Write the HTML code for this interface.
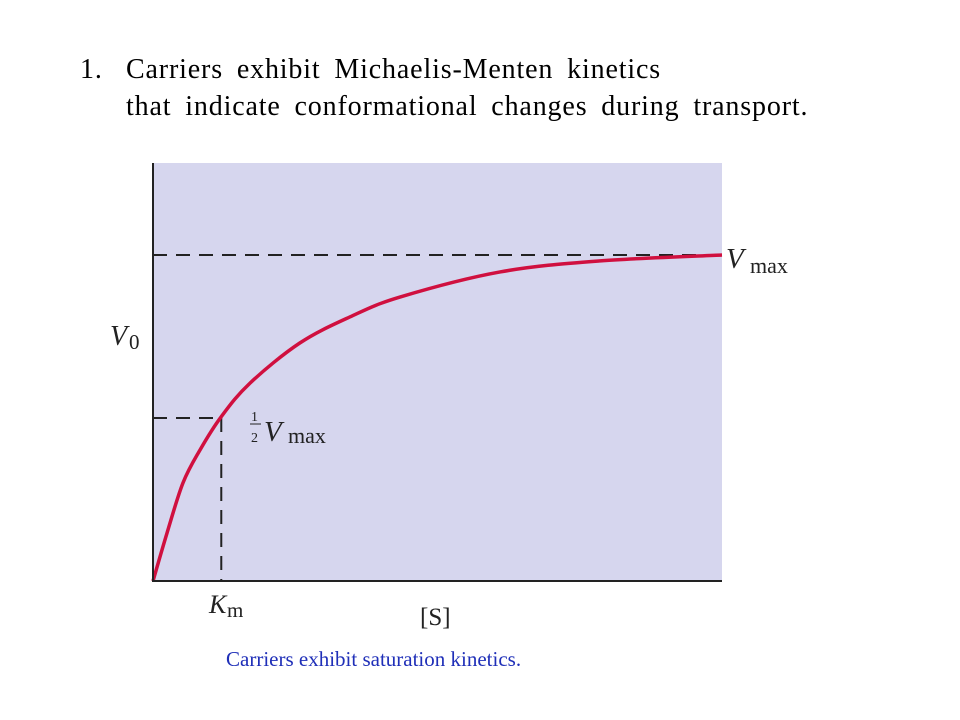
<!DOCTYPE html>
<html><head><meta charset="utf-8"><style>
body{margin:0;width:960px;height:720px;background:#fff;overflow:hidden;position:relative;font-family:"Liberation Serif",serif}
.t{position:absolute;font-size:28px;color:#000;white-space:nowrap;letter-spacing:0.85px;word-spacing:6px}
</style></head><body>
<div class="t" style="left:80px;top:54px">1.</div>
<div class="t" style="left:126px;top:54px">Carriers exhibit Michaelis-Menten kinetics</div>
<div class="t" style="left:126px;top:91px">that indicate conformational changes during transport.</div>
<svg id="c" width="960" height="720" style="position:absolute;left:0;top:0"></svg>
<div style="position:absolute;left:226px;top:647px;font-size:21px;color:#1f2fb8;white-space:nowrap">Carriers exhibit saturation kinetics.</div>
<script>
const S=[0,2.46,5.27,8.26,11.95,17.05,25.8,34.6,43.4,61,78.6,100];
const V=[0,0.147,0.301,0.402,0.503,0.607,0.730,0.810,0.871,0.948,0.982,1.0];
const vmax=1, km=12;
const X0=153,X1=722,Y0=581,Y1=163,SMAX=100,VTOP=(581-163)/326;
const x=s=>X0+s/SMAX*(X1-X0);
const y=v=>Y0-v/VTOP*(Y0-Y1);
const svg=document.getElementById('c');const NS='http://www.w3.org/2000/svg';
function el(t,a,txt){const e=document.createElementNS(NS,t);for(const k in a)e.setAttribute(k,a[k]);if(txt!=null)e.textContent=txt;svg.appendChild(e);return e;}
let e;
e=el('rect',{x:X0,y:Y1,width:X1-X0,height:Y0-Y1,fill:'#d6d6ee'});

e=el('line',{x1:X0,y1:y(vmax),x2:X1,y2:y(vmax),stroke:'#222',"stroke-width":2,"stroke-dasharray":"14,9"});

e=el('line',{x1:X0,y1:y(vmax/2),x2:x(km),y2:y(vmax/2),stroke:'#222',"stroke-width":2,"stroke-dasharray":"14,9"});

e=el('line',{x1:x(km),y1:y(vmax/2),x2:x(km),y2:Y0,stroke:'#222',"stroke-width":2,"stroke-dasharray":"14,9"});

const P=S.map((s,i)=>[x(s),y(V[i])]);
let d='M'+P[0][0]+','+P[0][1];
for(let i=0;i<P.length-1;i++){const p0=P[Math.max(0,i-1)],p1=P[i],p2=P[i+1],p3=P[Math.min(P.length-1,i+2)];
d+=` C${p1[0]+(p2[0]-p0[0])/6},${p1[1]+(p2[1]-p0[1])/6} ${p2[0]-(p3[0]-p1[0])/6},${p2[1]-(p3[1]-p1[1])/6} ${p2[0]},${p2[1]}`;}
e=el('path',{d:d,fill:'none',stroke:'#d0103f',"stroke-width":3.5,"stroke-linejoin":"round"});

e=el('line',{x1:X0,y1:Y1,x2:X0,y2:Y0+1,stroke:'#222',"stroke-width":2});

e=el('line',{x1:X0,y1:Y0,x2:X1,y2:Y0,stroke:'#222',"stroke-width":2});

const f='font-family:"Liberation Serif",serif;fill:#222';
e=el('text',{x:110,y:345,style:f+';font-size:28px;font-style:italic'},'V');

el('text',{x:129,y:349,style:f+';font-size:21px'},'0');
e=el('text',{x:420,y:625,style:f+';font-size:25px'},'[S]');

e=el('text',{x:209,y:613,style:f+';font-size:26px;font-style:italic'},'K');

el('text',{x:227,y:617,style:f+';font-size:21px'},'m');
e=el('text',{x:726,y:268,style:f+';font-size:29px;font-style:italic'},'V');

el('text',{x:750,y:273,style:f+';font-size:22px'},'max');
e=el('text',{x:251,y:421,style:f+';font-size:14px'},'1');

el('line',{x1:250,y1:424,x2:261,y2:424,stroke:'#222',"stroke-width":1});
el('text',{x:251,y:442,style:f+';font-size:14px'},'2');
el('text',{x:264,y:441,style:f+';font-size:29px;font-style:italic'},'V');
el('text',{x:288,y:443,style:f+';font-size:22px'},'max');
</script>
</body></html>
